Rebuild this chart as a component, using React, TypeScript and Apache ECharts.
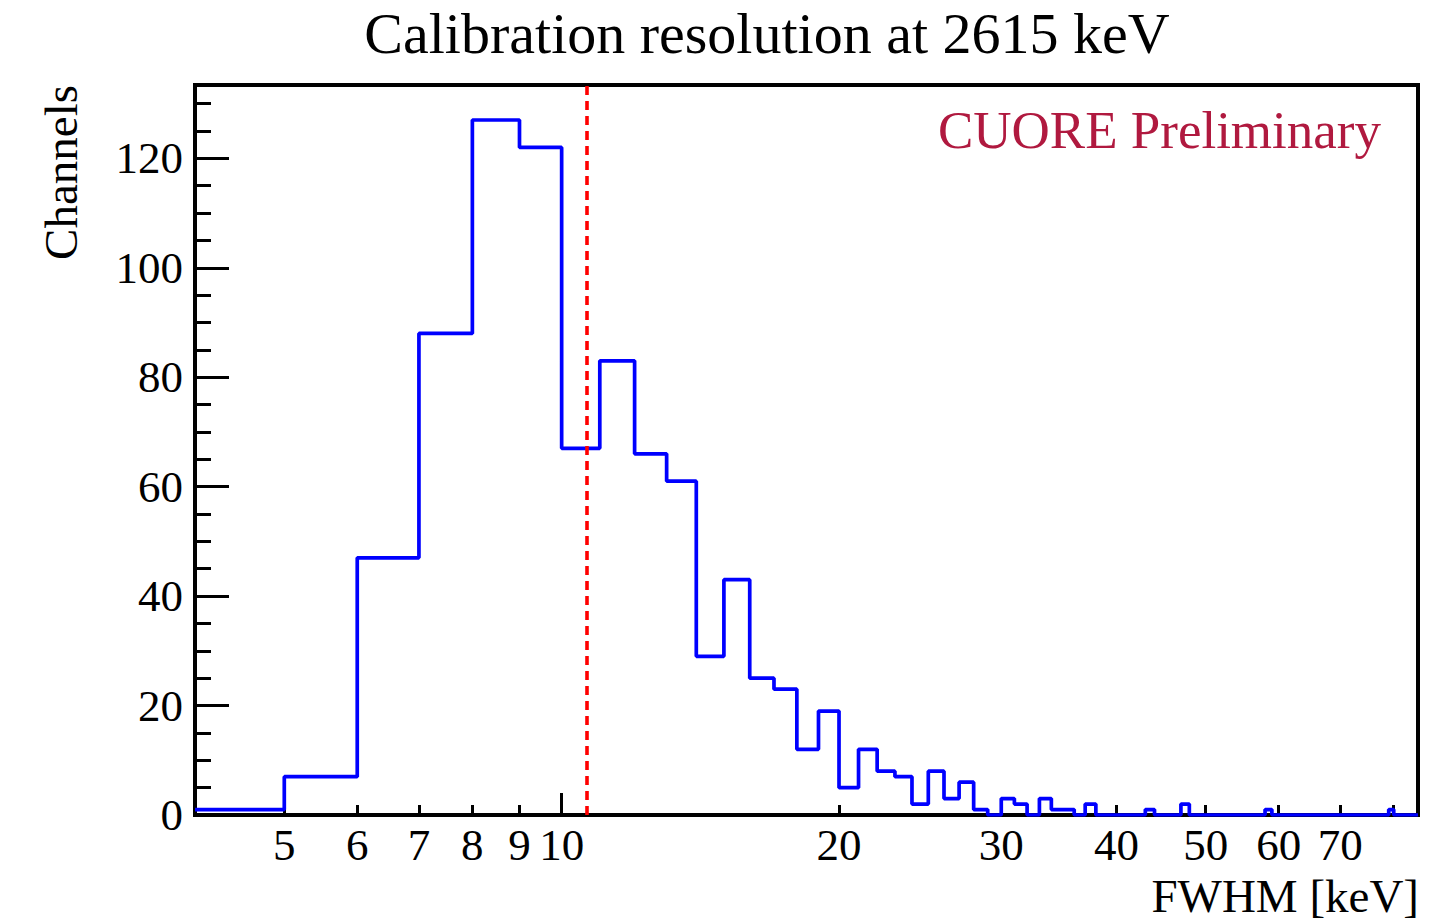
import React, { useEffect, useRef } from "react";
import * as echarts from "echarts";

// Histogram of per-channel FWHM at the 2615 keV calibration line (1 keV bins, lower edges)
const binEdges = [
  4, 5, 6, 7, 8, 9, 10, 11, 12, 13, 14, 15, 16, 17, 18, 19, 20, 21, 22, 23, 24,
  25, 26, 27, 28, 29, 30, 31, 32, 33, 34, 35, 36, 37, 38, 39, 40, 41, 42, 43, 44,
  45, 46, 47, 48, 49, 50, 51, 52, 53, 54, 55, 56, 57, 58, 59, 60, 61, 62, 63, 64,
  65, 66, 67, 68, 69, 70, 71, 72, 73, 74, 75, 76, 77, 78, 79, 80, 81, 82, 83, 84, 85,
];
const channelCounts = [
  1, 7, 47, 88, 127, 122, 67, 83, 66, 61, 29, 43, 25, 23, 12, 19, 5, 12, 8, 7, 2,
  8, 3, 6, 1, 0, 3, 2, 0, 3, 1, 1, 0, 2, 0, 0, 0, 0, 0, 1, 0,
  0, 0, 2, 0, 0, 0, 0, 0, 0, 0, 0, 0, 0, 1, 0, 0, 0, 0, 0, 0,
  0, 0, 0, 0, 0, 0, 0, 0, 0, 0, 0, 0, 0, 0, 1, 0, 0, 0, 0, 0,
];
const medianFwhm = 10.64;

const xTickValues = [5, 6, 7, 8, 9, 10, 20, 30, 40, 50, 60, 70, 80];
const xLabelValues = [5, 6, 7, 8, 9, 10, 20, 30, 40, 50, 60, 70];
const xDecadeTicks = [10];
const yLabelValues = [0, 20, 40, 60, 80, 100, 120];

const X_MIN = 4;
const X_MAX = 85;
const Y_MAX = 133.4;

const FONT = '"Liberation Serif", "Times New Roman", serif';

export default function App() {
  const ref = useRef<HTMLDivElement>(null);

  useEffect(() => {
    if (!ref.current) return;
    const chart = echarts.init(ref.current, null, { renderer: "svg" });

    // step histogram: each bin holds its count until the next edge
    const histData: [number, number][] = binEdges.map((e, i) => [
      e,
      i < channelCounts.length ? channelCounts[i] : channelCounts[channelCounts.length - 1],
    ]);

    const lx = (v: number) => Math.log10(v);
    const tickAxisBase = {
      type: "value" as const,
      gridIndex: 0,
      position: "bottom" as const,
      min: lx(X_MIN),
      max: lx(X_MAX),
      axisLine: { show: false },
      splitLine: { show: false },
    };

    chart.setOption({
      animation: false,
      backgroundColor: "#ffffff",
      grid: {
        left: 195,
        right: 26,
        top: 85,
        bottom: 107,
        show: true,
        borderColor: "#000000",
        borderWidth: 4,
        backgroundColor: "transparent",
      },
      xAxis: [
        {
          type: "log",
          min: X_MIN,
          max: X_MAX,
          logBase: 10,
          show: false,
        },
        {
          ...tickAxisBase,
          axisTick: {
            show: true,
            inside: true,
            length: 10,
            customValues: xTickValues.map(lx),
            lineStyle: { color: "#000", width: 3 },
          },
          axisLabel: {
            show: true,
            customValues: xLabelValues.map(lx),
            formatter: (v: number) => String(Math.round(Math.pow(10, v))),
            fontFamily: FONT,
            fontSize: 45,
            color: "#000",
            margin: 7,
          },
        },
        {
          ...tickAxisBase,
          axisTick: {
            show: true,
            inside: true,
            length: 22,
            customValues: xDecadeTicks.map(lx),
            lineStyle: { color: "#000", width: 3 },
          },
          axisLabel: { show: false },
        },
      ],
      yAxis: [
        {
          type: "value",
          min: 0,
          max: Y_MAX,
          interval: 20,
          position: "left",
          axisLine: { show: false },
          splitLine: { show: false },
          axisTick: {
            show: true,
            inside: true,
            length: 34,
            customValues: yLabelValues,
            lineStyle: { color: "#000", width: 3 },
          },
          axisLabel: {
            show: true,
            customValues: yLabelValues,
            fontFamily: FONT,
            fontSize: 45,
            color: "#000",
            margin: 12,
          },
        },
        {
          type: "value",
          min: 0,
          max: Y_MAX,
          interval: 5,
          position: "left",
          axisLine: { show: false },
          splitLine: { show: false },
          axisTick: {
            show: true,
            inside: true,
            length: 16,
            lineStyle: { color: "#000", width: 3 },
          },
          axisLabel: { show: false },
        },
      ],
      series: [
        {
          type: "line",
          xAxisIndex: 0,
          yAxisIndex: 0,
          data: histData,
          step: "end",
          symbol: "none",
          clip: true,
          lineStyle: { color: "#0000ff", width: 3.7 },
          markLine: {
            silent: true,
            symbol: "none",
            label: { show: false },
            lineStyle: { color: "#ff0000", width: 3.6, type: [9, 6] },
            data: [{ xAxis: medianFwhm }],
          },
        },
      ],
      graphic: [
        {
          type: "text",
          x: 767,
          y: 33,
          style: {
            text: "Calibration resolution at 2615 keV",
            fontFamily: FONT,
            fontSize: 58,
            fill: "#000",
            align: "center",
            verticalAlign: "middle",
          },
        },
        {
          type: "text",
          x: 1381,
          y: 130,
          style: {
            text: "CUORE Preliminary",
            fontFamily: FONT,
            fontSize: 53,
            fill: "#b0193f",
            align: "right",
            verticalAlign: "middle",
          },
        },
        {
          type: "text",
          x: 1419,
          y: 896,
          style: {
            text: "FWHM [keV]",
            fontFamily: FONT,
            fontSize: 47,
            fill: "#000",
            align: "right",
            verticalAlign: "middle",
          },
        },
        {
          type: "text",
          x: 61,
          y: 85,
          rotation: Math.PI / 2,
          style: {
            text: "Channels",
            fontFamily: FONT,
            fontSize: 47,
            fill: "#000",
            align: "right",
            verticalAlign: "middle",
          },
        },
      ],
    });

    return () => chart.dispose();
  }, []);

  return (
    <div
      ref={ref}
      style={{ position: "fixed", left: 0, top: 0, width: 1444, height: 922 }}
    />
  );
}
